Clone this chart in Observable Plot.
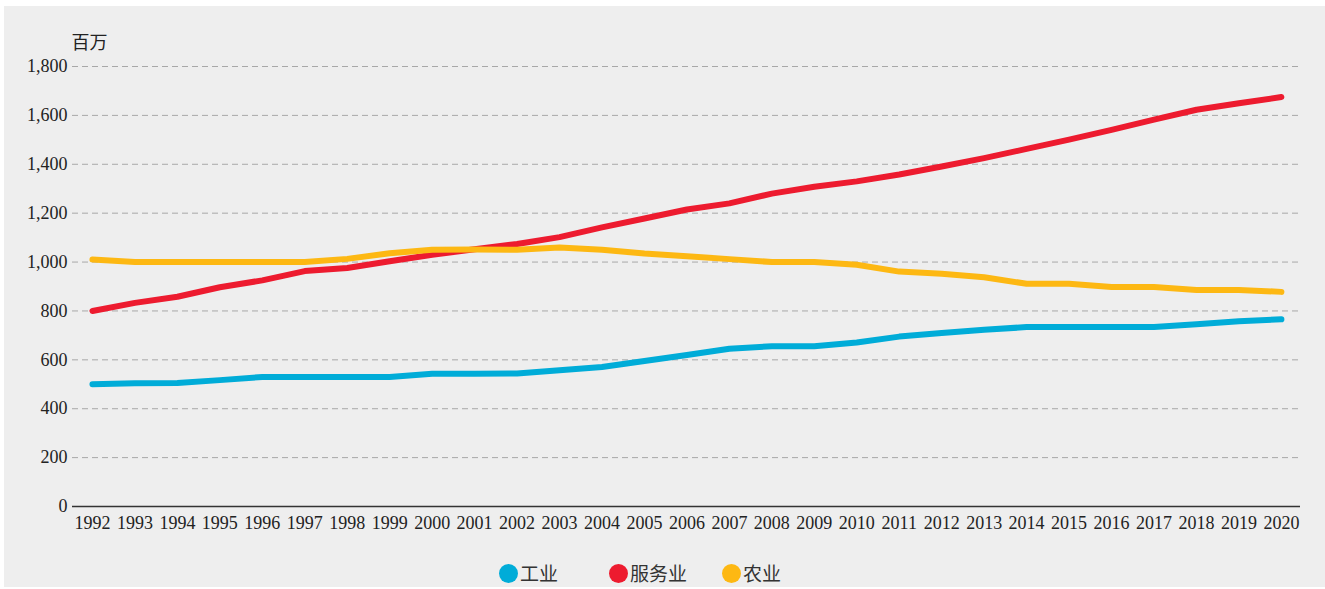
<!DOCTYPE html>
<html>
<head>
<meta charset="utf-8">
<script src="https://cdn.jsdelivr.net/npm/d3@7"></script>
<script src="https://cdn.jsdelivr.net/npm/@observablehq/plot@0.6"></script>
<style>
  html, body { margin: 0; padding: 0; background: #ffffff; }
  body { width: 1325px; height: 589px; position: relative; overflow: hidden;
         font-family: "Liberation Serif", "Noto Sans CJK SC", serif; }
  #bg { position: absolute; left: 4px; top: 6px; width: 1321px; height: 581px; background: #eeeeee; }
  #chart { position: absolute; left: 0; top: 0; }
  #chart svg { background: transparent !important; font-family: "Liberation Serif", "Noto Sans CJK SC", serif; }
  #legend { position: absolute; top: 560px; left: 0; width: 1325px; height: 26px; }
  .item { position: absolute; top: 0; display: flex; align-items: center; color: #333; white-space: nowrap; height: 26px; }
  .dot { width: 19px; height: 19px; border-radius: 50%; margin-right: 2px; }
</style>
</head>
<body>
<div id="bg"></div>
<div id="chart"></div>
<div id="legend"></div>
<script>
const years = [1992,1993,1994,1995,1996,1997,1998,1999,2000,2001,2002,2003,2004,2005,2006,2007,2008,2009,2010,2011,2012,2013,2014,2015,2016,2017,2018,2019,2020];
const industry = [500,504,505,517,530,530,530,530,543,543,544,557,571,595,620,645,656,656,671,695,710,723,734,734,734,734,746,758,766];
const services = [800,833,858,897,925,963,976,1003,1030,1052,1074,1102,1142,1178,1215,1240,1280,1308,1330,1358,1391,1425,1463,1501,1541,1583,1623,1650,1675];
const agriculture = [1010,1000,1000,1000,1000,1000,1013,1036,1050,1051,1050,1060,1050,1035,1024,1012,1000,1000,989,961,952,938,911,911,898,898,886,886,878];
const seriesNames = ["工业", "服务业", "农业"];
const seriesColors = ["#00acd8", "#ed1b2f", "#fdb813"];
const yTicks = [0,200,400,600,800,1000,1200,1400,1600,1800];
const unitLabel = "百万";

const seriesValues = [industry, services, agriculture];
const data = [];
seriesNames.forEach((name, i) => {
  years.forEach((yr, j) => data.push({year: yr, value: seriesValues[i][j], series: name}));
});

const serif = "Liberation Serif";
const chart = Plot.plot({
  width: 1325,
  height: 545,
  marginTop: 66,
  marginBottom: 39,
  marginLeft: 72,
  marginRight: 25,
  style: { background: "transparent", color: "#222" },
  x: { type: "linear", domain: [years[0] - 0.47, years[years.length - 1] + 0.45], label: null },
  y: { domain: [0, 1800], label: null },
  color: { domain: seriesNames, range: seriesColors },
  marks: [
    Plot.ruleY(yTicks.filter(d => d > 0), { stroke: "#a8a8a8", strokeWidth: 1, strokeDasharray: "6,4" }),
    Plot.ruleY([0], { stroke: "#333", strokeWidth: 1.5 }),
    Plot.axisY({ ticks: yTicks, tickFormat: d3.format(","), tickSize: 0, tickPadding: 5, label: null, fill: "#222", fontSize: 18, fontFamily: serif }),
    Plot.axisX({ ticks: years, tickFormat: d => String(d), tickSize: 0, tickPadding: 10, label: null, fill: "#222", fontSize: 18, fontFamily: serif }),
    Plot.line(data, { x: "year", y: "value", z: "series", stroke: "series", strokeWidth: 6, strokeLinecap: "round", strokeLinejoin: "round" }),
    Plot.text([unitLabel], { frameAnchor: "top-left", dy: -30, dx: -1, textAnchor: "start", fontSize: 18, fill: "#222", fontFamily: "Noto Sans CJK SC" })
  ]
});
document.getElementById("chart").appendChild(chart);

const legend = document.getElementById("legend");
const lefts = [499, 609, 722];
seriesNames.forEach((name, i) => {
  const it = document.createElement("div");
  it.className = "item";
  it.style.left = lefts[i] + "px";
  const dot = document.createElement("span");
  dot.className = "dot";
  dot.style.background = seriesColors[i];
  const t = document.createElement("span");
  t.textContent = name;
  t.style.fontFamily = "'Noto Sans CJK SC', sans-serif";
  t.style.fontSize = "19px";
  t.style.lineHeight = "26px";
  it.appendChild(dot);
  it.appendChild(t);
  legend.appendChild(it);
});
</script>
</body>
</html>
